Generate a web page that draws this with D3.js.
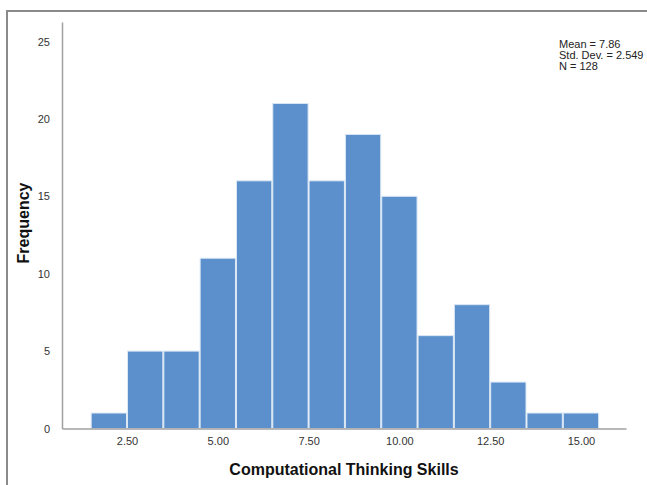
<!DOCTYPE html>
<html>
<head>
<meta charset="utf-8">
<script src="https://cdn.jsdelivr.net/npm/d3@7"></script>
<style>
  body { margin: 0; background: #fff; }
  svg { display: block; font-family: Arial, "Liberation Sans", sans-serif; }
</style>
</head>
<body>
<div id="chart"></div>
<script>
// bin centres (width 1) and their counts
const binCenters = [2, 3, 4, 5, 6, 7, 8, 9, 10, 11, 12, 13, 14, 15];
const counts = [1, 5, 5, 11, 16, 21, 16, 19, 15, 6, 8, 3, 1, 1];
const xTicks = [2.5, 5, 7.5, 10, 12.5, 15];
const yTicks = [0, 5, 10, 15, 20, 25];
const statsLines = ["Mean = 7.86", "Std. Dev. = 2.549", "N = 128"];

const W = 647, H = 485;
const plot = { left: 62, right: 626, top: 22, bottom: 428.5 };

const svg = d3.select("#chart")
  .append("svg")
  .attr("width", W)
  .attr("height", H);

// outer frame (top and left edges visible)
svg.append("path")
  .attr("d", `M7,${H} L7,11 L${W},11`)
  .attr("fill", "none")
  .attr("stroke", "#8a8a8a")
  .attr("stroke-width", 2);

const x = d3.scaleLinear()
  .domain([0.71, 16.24])
  .range([plot.left, plot.right]);

const y = d3.scaleLinear()
  .domain([0, 26.26])
  .range([plot.bottom, plot.top]);

// bars
svg.append("g")
  .selectAll("rect")
  .data(binCenters)
  .join("rect")
  .attr("x", d => x(d - 0.5) + 0.5)
  .attr("width", d => x(d + 0.5) - x(d - 0.5) - 1)
  .attr("y", (d, i) => y(counts[i]))
  .attr("height", (d, i) => y(0) - y(counts[i]))
  .attr("fill", "#5b90cc")
  .attr("stroke", "#dce8f5")
  .attr("stroke-width", 1);

// axes
const xAxis = svg.append("g")
  .attr("transform", `translate(0,${plot.bottom})`)
  .call(d3.axisBottom(x).tickValues(xTicks).tickFormat(d3.format(".2f")).tickSize(0).tickPadding(9));

const yAxis = svg.append("g")
  .attr("transform", `translate(${plot.left},0)`)
  .call(d3.axisLeft(y).tickValues(yTicks).tickSize(0).tickPadding(12));

[xAxis, yAxis].forEach(a => {
  a.select(".domain").attr("stroke", "#a0a0a0").attr("stroke-width", 1.5);
  a.selectAll("text")
    .attr("fill", "#333")
    .style("font-size", "11px");
});

// axis titles
svg.append("text")
  .attr("x", 344)
  .attr("y", 475)
  .attr("text-anchor", "middle")
  .style("font-size", "16px")
  .style("font-weight", "bold")
  .attr("fill", "#111")
  .text("Computational Thinking Skills");

svg.append("text")
  .attr("transform", "translate(29,223) rotate(-90)")
  .attr("text-anchor", "middle")
  .style("font-size", "16px")
  .style("font-weight", "bold")
  .attr("fill", "#111")
  .text("Frequency");

// summary statistics
svg.append("g")
  .selectAll("text")
  .data(statsLines)
  .join("text")
  .attr("x", 559)
  .attr("y", (d, i) => 48 + i * 11)
  .style("font-size", "11px")
  .attr("fill", "#222")
  .text(d => d);
</script>
</body>
</html>
